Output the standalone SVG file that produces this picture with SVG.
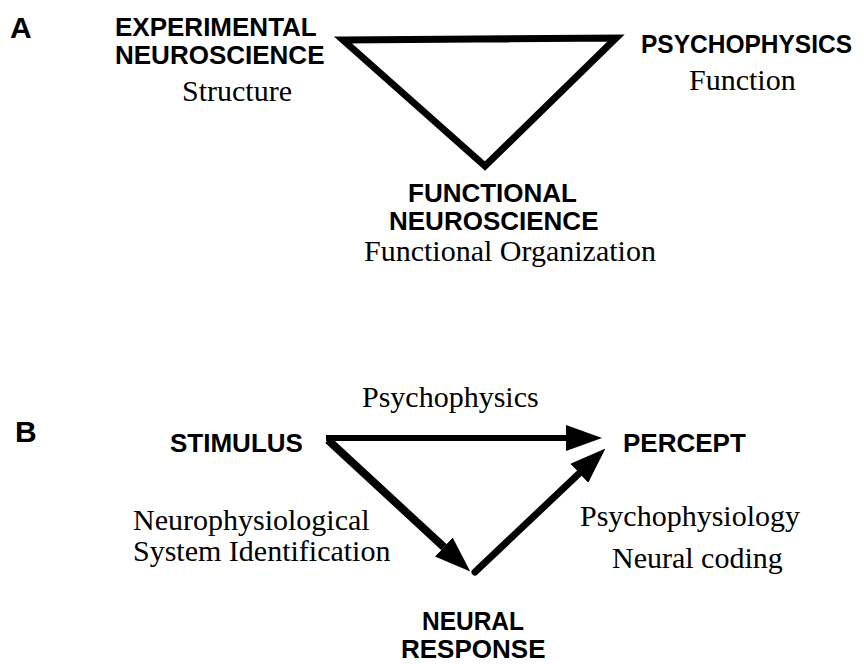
<svg xmlns="http://www.w3.org/2000/svg" width="864" height="664" viewBox="0 0 864 664">
<style>
.b{font-family:"Liberation Sans",Arial,sans-serif;font-weight:bold;font-size:26px;fill:#000}
.s{font-family:"Liberation Serif","Times New Roman",serif;font-size:30px;fill:#000}
.p{font-family:"Liberation Sans",Arial,sans-serif;font-weight:bold;font-size:30px;fill:#000}
.e{stroke:#000;stroke-width:7;fill:none}
</style>
<defs>
<marker id="ah" markerUnits="userSpaceOnUse" viewBox="0 -13 36 26" markerWidth="36" markerHeight="26" refX="0" refY="0" orient="auto">
<path d="M0,-13 L36,0 L0,13 z" fill="#000"/>
</marker>
</defs>
<rect width="864" height="664" fill="#fff"/>
<text class="p" x="10" y="38">A</text>
<text class="p" x="15" y="442">B</text>
<g id="connectors">
<polygon class="e" points="343,40 616,38 485,166" stroke-linejoin="miter"/>
<line class="e" style="stroke-width:6" x1="326" y1="438" x2="566" y2="438" marker-end="url(#ah)"/>
<line class="e" style="stroke-width:8" x1="328" y1="440" x2="443.8" y2="547" marker-end="url(#ah)"/>
<line class="e" x1="475" y1="572" x2="579.3" y2="473.3" stroke-linecap="round" marker-end="url(#ah)"/>
</g>
<g id="experimental">
<text class="b" x="115" y="36">EXPERIMENTAL</text>
<text class="b" x="115" y="64">NEUROSCIENCE</text>
<text class="s" x="182" y="101">Structure</text>
</g>
<g id="psychophysics">
<text class="b" x="641" y="53" font-size="25" textLength="211" lengthAdjust="spacingAndGlyphs">PSYCHOPHYSICS</text>
<text class="s" x="689" y="90">Function</text>
</g>
<g id="functional">
<text class="b" x="408" y="202">FUNCTIONAL</text>
<text class="b" x="389" y="230">NEUROSCIENCE</text>
<text class="s" x="364" y="261">Functional Organization</text>
</g>
<g id="stimulus"><text class="b" x="170" y="452">STIMULUS</text></g>
<g id="percept"><text class="b" x="623" y="452">PERCEPT</text></g>
<g id="neural"><text class="b" x="422" y="630" textLength="102" lengthAdjust="spacingAndGlyphs">NEURAL</text><text class="b" x="401" y="658">RESPONSE</text></g>
<g id="labels">
<text class="s" x="362" y="407">Psychophysics</text>
<text class="s" x="133" y="530">Neurophysiological</text>
<text class="s" x="133" y="561">System Identification</text>
<text class="s" x="580" y="526">Psychophysiology</text>
<text class="s" x="612" y="568">Neural coding</text>
</g>
</svg>
